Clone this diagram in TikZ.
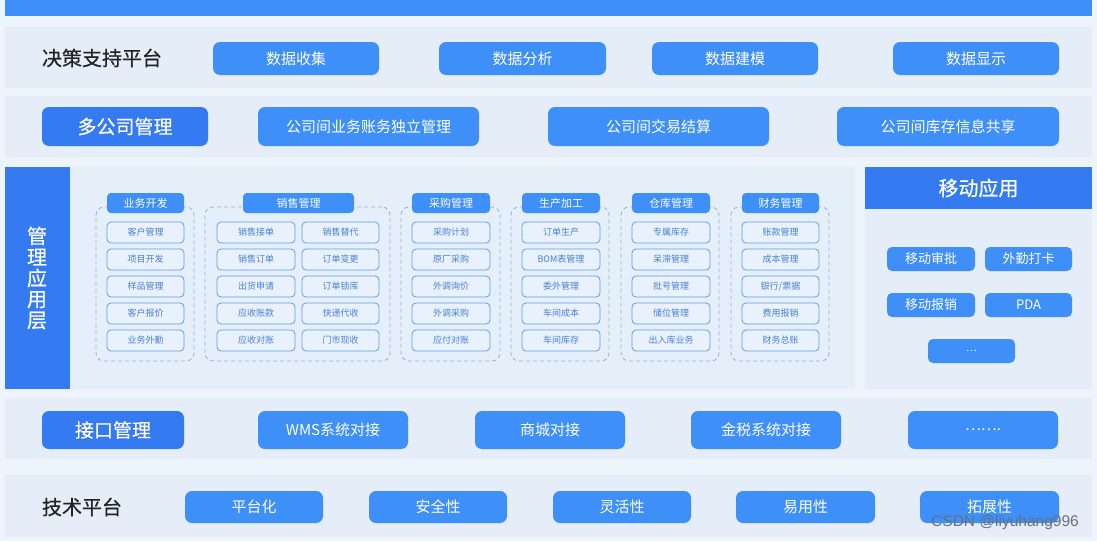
\documentclass[tikz,border=0pt]{standalone}
\usepackage{fontspec}
\setmainfont{Noto Sans CJK SC}
\newfontfamily\wmfont{Liberation Sans}
\newfontfamily\cjkbold[FakeBold=0.5]{Noto Sans CJK SC}
\definecolor{pagebg}{RGB}{238,244,251}
\definecolor{bandbg}{RGB}{228,237,248}
\definecolor{mainbg}{RGB}{229,239,250}
\definecolor{lightblue}{RGB}{62,143,247}
\definecolor{darkblue}{RGB}{52,122,240}
\definecolor{itemfill}{RGB}{233,242,252}
\definecolor{itemline}{RGB}{98,155,232}
\definecolor{itemtext}{RGB}{72,128,210}
\definecolor{dashline}{RGB}{150,175,210}
\definecolor{labeltext}{RGB}{34,34,34}
\definecolor{wmgray}{RGB}{108,112,118}
\newcommand\bx[7]{%
  \pgfmathsetmacro\bw{#4-#2}\pgfmathsetmacro\bh{#5-#3}%
  \node[#6,minimum width=\bw pt,minimum height=\bh pt] (#1) at ({(#2+#4)/2},{(#3+#5)/2}) {#7};}
\tikzset{
  base/.style={inner sep=0pt, outer sep=0pt, align=center},
  plain/.style={base, fill=#1},
  btn/.style={base, fill=lightblue, rounded corners=7pt, text=white, font=\fontsize{15}{17}\selectfont},
  darkbtn/.style={base, fill=darkblue, rounded corners=7pt, text=white, font=\cjkbold\fontsize{19}{21}\selectfont},
  mbtn/.style={base, fill=lightblue, rounded corners=5pt, text=white, font=\fontsize{13}{15}\selectfont},
  ghead/.style={base, fill=lightblue, rounded corners=4pt, text=white, font=\fontsize{11}{13}\selectfont},
  item/.style={base, fill=itemfill, draw=itemline, line width=0.8pt, rounded corners=4pt, text=itemtext, font=\fontsize{9}{11}\selectfont},
  group/.style={base, draw=dashline, dash pattern=on 4pt off 3pt, line width=0.8pt, rounded corners=8pt},
  bandlabel/.style={base, text=labeltext, font=\cjkbold\fontsize{20}{22}\selectfont, anchor=west},
}
\begin{document}
\begin{tikzpicture}[x=1pt,y=-1pt]
\useasboundingbox (0,0) rectangle (1097,541);
\fill[pagebg] (0,0) rectangle (1097,541);
% top bar and bands
\bx{topbar}{5}{0}{1092}{16}{plain=lightblue}{}
\bx{band1}{5}{27}{1092}{88}{plain=bandbg}{}
\bx{band2}{5}{96}{1092}{157}{plain=bandbg}{}
\bx{mainarea}{70}{167}{855}{389}{plain=mainbg}{}
\bx{mobarea}{865}{167}{1092}{389}{plain=bandbg}{}
\bx{band4}{5}{398}{1092}{459}{plain=bandbg}{}
\bx{band5}{5}{475}{1092}{537}{plain=bandbg}{}
% band 1
\node[bandlabel] (l1) at (42,58) {决策支持平台};
\bx{b11}{213}{42}{379}{75}{btn}{数据收集}
\bx{b12}{439}{42}{606}{75}{btn}{数据分析}
\bx{b13}{652}{42}{818}{75}{btn}{数据建模}
\bx{b14}{893}{42}{1059}{75}{btn}{数据显示}
% band 2
\bx{b20}{42}{107}{208}{146}{darkbtn}{多公司管理}
\bx{b21}{258}{107}{479}{146}{btn}{公司间业务账务独立管理}
\bx{b22}{548}{107}{769}{146}{btn}{公司间交易结算}
\bx{b23}{837}{107}{1059}{146}{btn}{公司间库存信息共享}
% management layer
\bx{mgbar}{5}{167}{70}{389}{plain=darkblue}{}
\node[base, text=white, font=\cjkbold\fontsize{20}{21}\selectfont] (mglabel) at (37,278) {管\\理\\应\\用\\层};
% groups
\bx{gad}{96}{207}{194}{361}{group}{}
\bx{gah}{107}{193}{184}{213}{ghead}{业务开发}
\foreach \t [count=\i] in {客户管理,项目开发,样品管理,客户报价,业务外勤}{
  \pgfmathsetmacro\yy{222+27*(\i-1)}
  \bx{ga\i}{107}{\yy}{184}{\yy+21}{item}{\t}}
\bx{gbd}{205}{207}{390}{361}{group}{}
\bx{gbh}{243}{193}{354}{213}{ghead}{销售管理}
\foreach \t [count=\i] in {销售接单,销售订单,出货申请,应收账款,应收对账}{
  \pgfmathsetmacro\yy{222+27*(\i-1)}
  \bx{gbl\i}{217}{\yy}{295}{\yy+21}{item}{\t}}
\foreach \t [count=\i] in {销售替代,订单变更,订单锁库,快递代收,门市现收}{
  \pgfmathsetmacro\yy{222+27*(\i-1)}
  \bx{gbr\i}{302}{\yy}{379}{\yy+21}{item}{\t}}
\bx{gcd}{401}{207}{500}{361}{group}{}
\bx{gch}{412}{193}{490}{213}{ghead}{采购管理}
\foreach \t [count=\i] in {采购计划,原厂采购,外调询价,外调采购,应付对账}{
  \pgfmathsetmacro\yy{222+27*(\i-1)}
  \bx{gc\i}{412}{\yy}{490}{\yy+21}{item}{\t}}
\bx{gdd}{511}{207}{609}{361}{group}{}
\bx{gdh}{522}{193}{600}{213}{ghead}{生产加工}
\foreach \t [count=\i] in {订单生产,BOM表管理,委外管理,车间成本,车间库存}{
  \pgfmathsetmacro\yy{222+27*(\i-1)}
  \bx{gd\i}{522}{\yy}{600}{\yy+21}{item}{\t}}
\bx{ged}{621}{207}{719}{361}{group}{}
\bx{geh}{632}{193}{710}{213}{ghead}{仓库管理}
\foreach \t [count=\i] in {专属库存,呆滞管理,批号管理,储位管理,出入库业务}{
  \pgfmathsetmacro\yy{222+27*(\i-1)}
  \bx{ge\i}{632}{\yy}{710}{\yy+21}{item}{\t}}
\bx{gfd}{731}{207}{829}{361}{group}{}
\bx{gfh}{742}{193}{819}{213}{ghead}{财务管理}
\foreach \t [count=\i] in {账款管理,成本管理,银行/票据,费用报销,财务总账}{
  \pgfmathsetmacro\yy{222+27*(\i-1)}
  \bx{gf\i}{742}{\yy}{819}{\yy+21}{item}{\t}}
% mobile panel
\bx{mobhead}{865}{167}{1092}{209}{plain=darkblue,text=white,font=\cjkbold\fontsize{20}{22}\selectfont}{移动应用}
\bx{m1}{887}{247}{975}{271}{mbtn}{移动审批}
\bx{m2}{985}{247}{1072}{271}{mbtn}{外勤打卡}
\bx{m3}{887}{293}{975}{317}{mbtn}{移动报销}
\bx{m4}{985}{293}{1072}{317}{mbtn}{PDA}
\bx{m5}{928}{339}{1015}{363}{mbtn}{\fontsize{10}{12}\selectfont …}
% band 4
\bx{b40}{42}{411}{184}{449}{darkbtn}{接口管理}
\bx{b41}{258}{411}{408}{449}{btn}{WMS系统对接}
\bx{b42}{475}{411}{625}{449}{btn}{商城对接}
\bx{b43}{691}{411}{841}{449}{btn}{金税系统对接}
\bx{b44}{908}{411}{1058}{449}{btn}{…….}
% band 5
\node[bandlabel] (l5) at (42,507) {技术平台};
\bx{b51}{185}{491}{323}{523}{btn}{平台化}
\bx{b52}{369}{491}{507}{523}{btn}{安全性}
\bx{b53}{553}{491}{691}{523}{btn}{灵活性}
\bx{b54}{736}{491}{875}{523}{btn}{易用性}
\bx{b55}{920}{491}{1059}{523}{btn}{拓展性}
% watermark
\node[base, text=wmgray, font=\wmfont\fontsize{15.5}{17}\selectfont] (wm) at (1005,522) {CSDN @liyuhang996};
\end{tikzpicture}
\end{document}
